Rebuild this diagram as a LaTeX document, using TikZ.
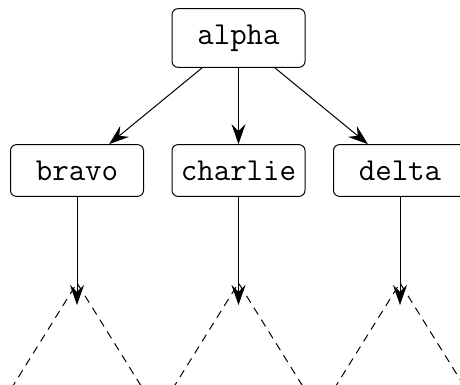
\documentclass[tikz,border=0pt]{standalone}
\usetikzlibrary{arrows.meta, calc}

\tikzset{
  treebox/.style={draw, rounded corners=3pt, line width=0.5pt,
    minimum width=66.5pt, inner xsep=4pt, inner ysep=8pt,
    font=\fontsize{16}{18}\selectfont\ttfamily},
  treeedge/.style={line width=0.5pt, -{Stealth[length=10pt, width=7pt, inset=3.5pt]}},
  subtree/.style={line width=0.5pt, dash pattern=on 4pt off 3pt}
}

\begin{document}
\begin{tikzpicture}[x=0.5pt,y=0.5pt]
  \clip (0,0) rectangle (460,385);

  % nodes
  \node[treebox] (alpha) at (238.5,347) {alpha};
  \node[treebox] (bravo) at (77,214.5) {bravo};
  \node[treebox] (charlie) at (238.5,214.5) {charlie};
  \node[treebox] (delta) at (400,214.5) {delta};

  \draw[treeedge] (alpha) -- (bravo);
  \draw[treeedge] (alpha) -- (charlie);
  \draw[treeedge] (alpha) -- (delta);

  % bravo subtree
  \coordinate (bravo-sub) at (77,80);
  \draw[subtree] ($(bravo-sub)+(-66,-84)$) -- ($(bravo-sub)+(0,22)$) -- ($(bravo-sub)+(66,-84)$);
  \draw[treeedge] (bravo) -- (bravo-sub);

  % charlie subtree
  \coordinate (charlie-sub) at (238.5,80);
  \draw[subtree] ($(charlie-sub)+(-66,-84)$) -- ($(charlie-sub)+(0,22)$) -- ($(charlie-sub)+(66,-84)$);
  \draw[treeedge] (charlie) -- (charlie-sub);

  % delta subtree
  \coordinate (delta-sub) at (400,80);
  \draw[subtree] ($(delta-sub)+(-66,-84)$) -- ($(delta-sub)+(0,22)$) -- ($(delta-sub)+(66,-84)$);
  \draw[treeedge] (delta) -- (delta-sub);
\end{tikzpicture}
\end{document}
